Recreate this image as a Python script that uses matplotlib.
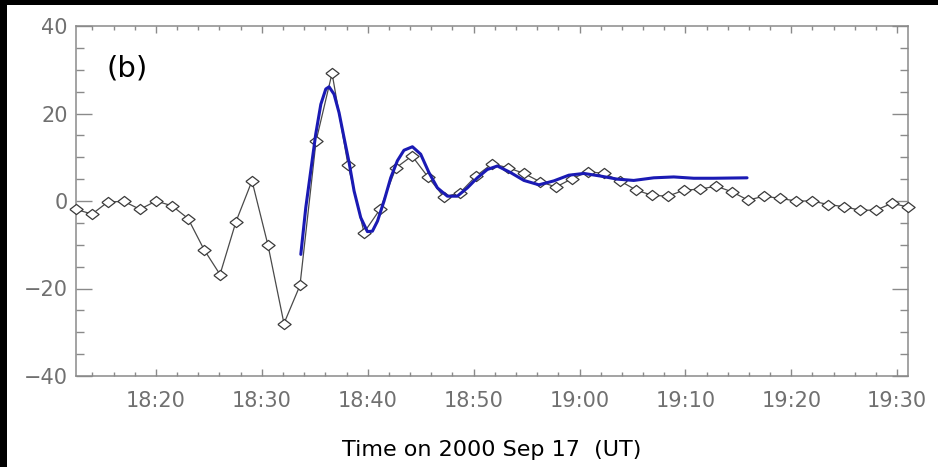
import matplotlib
matplotlib.use("Agg")
import matplotlib.pyplot as plt
import matplotlib.ticker as mticker
from matplotlib.patches import Rectangle

# ── data (minutes after 18:00 UT) ───────────────────────────────────────────
obs_minutes = [12.45, 13.96, 15.47, 16.98, 18.49, 20.01, 21.52, 23.03, 24.54, 26.05,
               27.56, 29.07, 30.58, 32.09, 33.60, 35.12, 36.63, 38.14, 39.65, 41.16,
               42.67, 44.18, 45.69, 47.20, 48.71, 50.23, 51.74, 53.25, 54.76, 56.27,
               57.78, 59.29, 60.80, 62.31, 63.82, 65.34, 66.85, 68.36, 69.87, 71.38,
               72.89, 74.40, 75.91, 77.42, 78.93, 80.45, 81.96, 83.47, 84.98, 86.49,
               88.00, 89.51, 91.02]
obs_values = [-1.9, -3.0, -0.2, -0.1, -1.9, 0.0, -1.1, -4.0, -11.1, -16.8,
              -4.7, 4.6, -10.1, -28.0, -19.3, 13.7, 29.2, 8.2, -7.2, -1.9,
              7.6, 10.3, 5.5, 0.9, 1.9, 5.7, 8.5, 7.6, 6.3, 4.4,
              3.2, 5.1, 6.7, 6.3, 4.6, 2.5, 1.3, 1.1, 2.5, 2.7,
              3.4, 2.1, 0.2, 1.1, 0.6, 0.0, 0.0, -0.8, -1.3, -2.1,
              -2.1, -0.5, -1.4]

fit_minutes = [33.68, 34.15, 34.62, 35.09, 35.57, 36.04, 36.35, 36.82, 37.29, 37.76,
               38.24, 38.71, 39.34, 39.97, 40.44, 40.92, 41.54, 42.17, 42.80, 43.42,
               44.22, 45.00, 45.78, 46.58, 47.52, 48.46, 49.41, 50.35, 51.29, 52.24,
               53.49, 54.75, 56.16, 57.58, 58.99, 60.41, 61.98, 63.56, 65.12, 67.01,
               68.90, 70.78, 72.67, 75.82]
fit_values = [-12.2, -1.5, 6.9, 15.3, 22.1, 25.6, 26.1, 24.4, 20.2, 14.5,
              8.8, 2.3, -3.8, -7.0, -6.9, -4.6, 0.0, 5.3, 9.2, 11.6,
              12.4, 10.7, 6.5, 3.0, 1.1, 1.1, 3.0, 5.3, 7.2, 8.0,
              6.5, 4.7, 3.7, 4.6, 5.9, 6.3, 5.7, 5.0, 4.7, 5.3,
              5.5, 5.2, 5.2, 5.3]

tick_minutes = [20, 30, 40, 50, 60, 70, 80, 90]

W, H = 938, 467
AX_GRAY = "#8a8a8a"
LABEL_GRAY = "#707070"

fig = plt.figure(figsize=(W / 100, H / 100), dpi=100)
fig.patch.set_facecolor("white")
# thin black border on top and left of the page
for rect in [(0, 1 - 5 / H, 1, 5 / H), (0, 0, 7 / W, 1)]:
    fig.patches.append(Rectangle(rect[:2], rect[2], rect[3], transform=fig.transFigure,
                                 facecolor="black", edgecolor="none", zorder=-1))

ax = fig.add_axes([76 / W, 1 - 376 / H, (908 - 76) / W, (376 - 26) / H])
ax.set_facecolor("white")

# wide diamond marker (picture is horizontally stretched)
diamond = [(-1.3, 0), (0, 1), (1.3, 0), (0, -1), (-1.3, 0)]
ax.plot(obs_minutes, obs_values, color="#4a4a4a", linewidth=0.9,
        marker=diamond, markersize=9.5, markerfacecolor="white",
        markeredgecolor="#3a3a3a", markeredgewidth=0.9, zorder=3, clip_on=False)
ax.plot(fit_minutes, fit_values, color="#1a1ab4", linewidth=2.2,
        solid_joinstyle="round", solid_capstyle="round", zorder=4)

ax.set_xlim(obs_minutes[0], obs_minutes[-1])
ax.set_ylim(-40, 40)

ax.set_xticks(tick_minutes)
ax.xaxis.set_minor_locator(mticker.MultipleLocator(2))
ax.xaxis.set_major_formatter(mticker.FuncFormatter(
    lambda m, _: f"{18 + int(m) // 60}:{int(m) % 60:02d}"))
ax.yaxis.set_major_locator(mticker.MultipleLocator(20))
ax.yaxis.set_minor_locator(mticker.MultipleLocator(5))
ax.yaxis.set_major_formatter(mticker.FuncFormatter(
    lambda v, _: f"{v:.0f}".replace("-", "\u2212")))

for s in ax.spines.values():
    s.set_color(AX_GRAY)
    s.set_linewidth(1.1)

ax.tick_params(axis="both", which="both", direction="in", color=AX_GRAY,
               width=1.0, top=True, right=True, labelcolor=LABEL_GRAY)
ax.tick_params(axis="x", which="major", length=5, pad=11, labelsize=15)
ax.tick_params(axis="x", which="minor", length=3)
ax.tick_params(axis="y", which="major", length=11.5, pad=6, labelsize=15)
ax.tick_params(axis="y", which="minor", length=5.5)

ax.set_xlabel("Time on 2000 Sep 17  (UT)", fontsize=16, color="black", labelpad=21)

ax.text(0.037, 0.88, "(b)", transform=ax.transAxes, fontsize=21,
        color="black", ha="left", va="center")

fig.savefig("out.png", dpi=100, facecolor=fig.get_facecolor())
